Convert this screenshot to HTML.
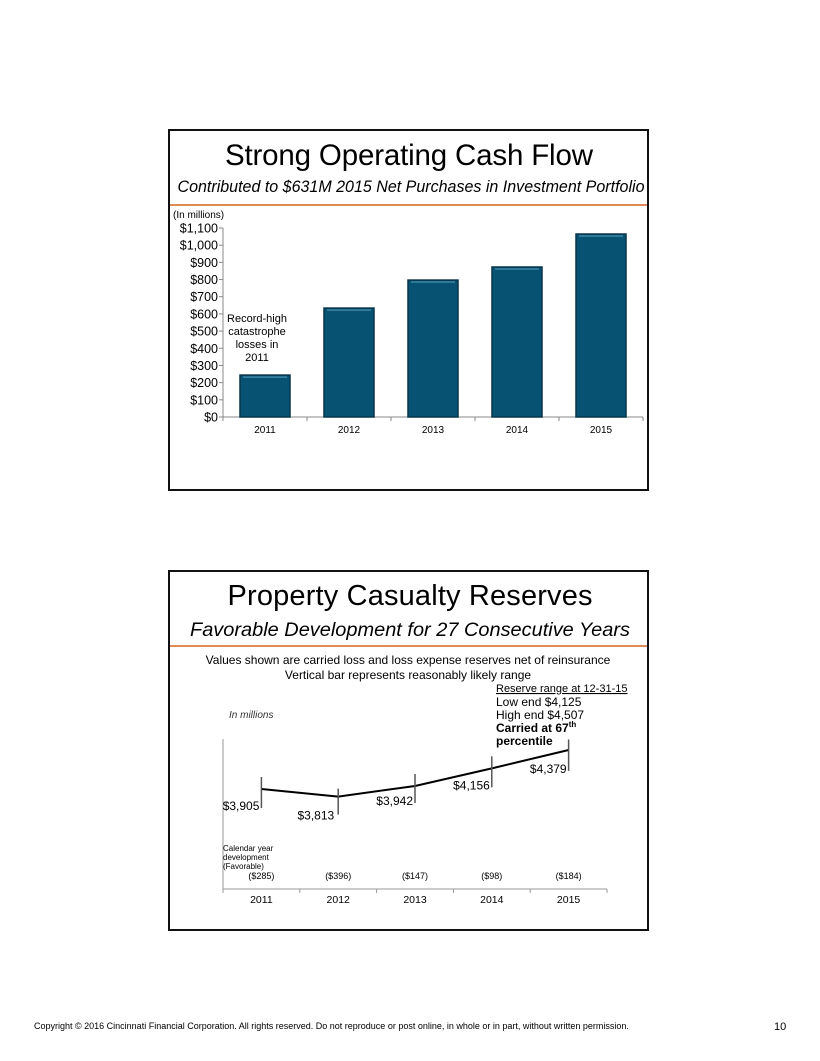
<!DOCTYPE html>
<html><head><meta charset="utf-8"><style>
html,body{margin:0;padding:0;background:#fff;}
svg{display:block;font-family:"Liberation Sans",Arial,sans-serif;}
</style></head><body>
<svg id="s" width="820" height="1061" viewBox="0 0 820 1061" xmlns="http://www.w3.org/2000/svg">
<rect x="169" y="130" width="479" height="360" fill="#fff" stroke="#111" stroke-width="2"/>
<text x="409" y="165" font-size="29.5" text-anchor="middle" textLength="368">Strong Operating Cash Flow</text>
<text x="411" y="192" font-size="16.5" font-style="italic" text-anchor="middle" textLength="467" lengthAdjust="spacingAndGlyphs">Contributed to $631M 2015 Net Purchases in Investment Portfolio</text>
<line x1="170" y1="205" x2="647" y2="205" stroke="#d9631e" stroke-width="1.5"/>
<text x="173" y="218" font-size="10">(In millions)</text>
<g id="bars"></g>
<text x="257" y="322" font-size="11" text-anchor="middle"><tspan x="257">Record-high</tspan><tspan x="257" dy="13">catastrophe</tspan><tspan x="257" dy="13">losses in</tspan><tspan x="257" dy="13">2011</tspan></text>

<rect x="169" y="571" width="479" height="359" fill="#fff" stroke="#111" stroke-width="2"/>
<text x="410" y="605" font-size="29" text-anchor="middle" textLength="365">Property Casualty Reserves</text>
<text x="410" y="636" font-size="19.5" font-style="italic" text-anchor="middle" textLength="440" lengthAdjust="spacingAndGlyphs">Favorable Development for 27 Consecutive Years</text>
<line x1="170" y1="646" x2="647" y2="646" stroke="#d9631e" stroke-width="1.5"/>
<text x="408" y="664" font-size="12" text-anchor="middle">Values shown are carried loss and loss expense reserves net of reinsurance</text>
<text x="408" y="679" font-size="12" text-anchor="middle">Vertical bar represents reasonably likely range</text>
<text x="496" y="692" font-size="11" text-decoration="underline">Reserve range at 12-31-15</text>
<text x="496" y="706" font-size="12">Low end $4,125</text>
<text x="496" y="719" font-size="12">High end $4,507</text>
<text x="496" y="732" font-size="12" font-weight="bold">Carried at 67<tspan font-size="8" dy="-5">th</tspan></text>
<text x="496" y="745" font-size="12" font-weight="bold">percentile</text>
<text x="229" y="718" font-size="10" font-style="italic" fill="#333">In millions</text>
<text x="223" y="851" font-size="8"><tspan x="223">Calendar year</tspan><tspan x="223" dy="9">development</tspan><tspan x="223" dy="9">(Favorable)</tspan></text>
<g id="line"></g>

<text x="34" y="1029" font-size="9">Copyright © 2016 Cincinnati Financial Corporation. All rights reserved. Do not reproduce or post online, in whole or in part, without written permission.</text>
<text x="774" y="1030" font-size="11">10</text>
</svg>
<script>
var NS="http://www.w3.org/2000/svg";
var years=["2011","2012","2013","2014","2015"];
var cashFlow=[244,634,797,873,1065];
var yTicks=[0,100,200,300,400,500,600,700,800,900,1000,1100];
var reserves=[3905,3813,3942,4156,4379];
var rangeLow=[3674,3594,3735,3925,4125];
var rangeHigh=[4051,3910,4088,4302,4507];
var devValues=["($285)","($396)","($147)","($98)","($184)"];

function mk(tag,attrs,parent,txt){var e=document.createElementNS(NS,tag);for(var k in attrs)e.setAttribute(k,attrs[k]);if(txt!=null)e.textContent=txt;parent.appendChild(e);return e;}
var g=document.getElementById("bars");
var X0=223,X1=643,Y0=417,Y1=228,MAX=1100;
function by(v){return Y0-(v/MAX)*(Y0-Y1);}
function bx(i){return X0+(i+0.5)*(X1-X0)/years.length;}
var ax=mk("line",{x1:X0,y1:Y1,x2:X0,y2:Y0,stroke:"#888"},g);


var xa=mk("line",{x1:X0,y1:Y0,x2:X1,y2:Y0,stroke:"#888"},g);


yTicks.forEach(function(t){
  var y=by(t);
  mk("line",{x1:X0-4,y1:y,x2:X0,y2:y,stroke:"#888"},g);
  var lb=mk("text",{x:X0-5,y:y+4.5,"font-size":12.5,"text-anchor":"end"},g,"$"+t.toLocaleString("en-US"));
  
  
});
for(var i=0;i<=years.length;i++){var tx=X0+i*(X1-X0)/years.length;mk("line",{x1:tx,y1:Y0,x2:tx,y2:Y0+4,stroke:"#888"},g);}
cashFlow.forEach(function(v,i){
  var cx=bx(i),w=50;
  var r=mk("rect",{x:cx-w/2,y:by(v),width:w,height:Y0-by(v),fill:"#075273",stroke:"#06344a","stroke-width":1.5},g);
  
  
  mk("line",{x1:cx-w/2+3,y1:by(v)+2,x2:cx+w/2-3,y2:by(v)+2,stroke:"#3d86a6","stroke-width":1.5},g);
  var l=mk("text",{x:cx,y:433,"font-size":10,"text-anchor":"middle"},g,years[i]);
  
  
});
var lg=document.getElementById("line");
var LX0=223,LX1=607,LYbase=889,LYtop=739;
var REF=3905,REFY=789,PX=0.0823;
function ly(v){return REFY-(v-REF)*PX;}
function lx(i){return LX0+(i+0.5)*(LX1-LX0)/years.length;}
var la=mk("line",{x1:LX0,y1:LYtop,x2:LX0,y2:LYbase,stroke:"#999"},lg);


var lxa=mk("line",{x1:LX0,y1:LYbase,x2:LX1,y2:LYbase,stroke:"#999"},lg);


for(var j=0;j<=years.length;j++){var t2=LX0+j*(LX1-LX0)/years.length;mk("line",{x1:t2,y1:LYbase,x2:t2,y2:LYbase+4,stroke:"#999"},lg);}
var pts=reserves.map(function(v,i){return lx(i)+","+ly(v);}).join(" ");
var pl=mk("polyline",{points:pts,fill:"none",stroke:"#000","stroke-width":2},lg);


reserves.forEach(function(v,i){
  var x=lx(i);
  var rb=mk("line",{x1:x,y1:ly(rangeHigh[i]),x2:x,y2:ly(rangeLow[i]),stroke:"#555","stroke-width":1.5},lg);
  
  
  var vl=mk("text",{x:(i==1?x-4:x-2),y:ly(rangeLow[i])+(i==1?5:2),"font-size":12,"text-anchor":"end"},lg,"$"+v.toLocaleString("en-US"));
  
  
  var dv=mk("text",{x:x,y:879,"font-size":9,"text-anchor":"middle"},lg,devValues[i]);
  
  
  var yl=mk("text",{x:x,y:903,"font-size":10.5,"text-anchor":"middle"},lg,years[i]);
  
  
});
</script>
</body></html>
